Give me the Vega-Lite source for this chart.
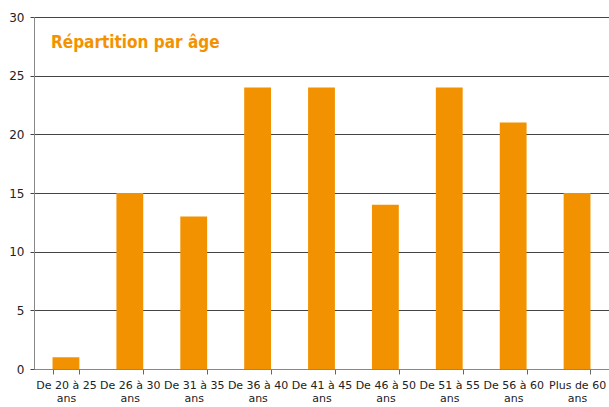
{
  "$schema": "https://vega.github.io/schema/vega-lite/v6.json",
  "width": 575,
  "height": 352,
  "padding": {"left": 8, "top": 11, "right": 0, "bottom": 0},
  "background": "white",
  "title": {
    "text": "Répartition par âge",
    "anchor": "start",
    "frame": "group",
    "orient": "top",
    "offset": -41,
    "dx": 17,
    "font": "DejaVu Sans Condensed",
    "fontWeight": "bold",
    "fontSize": 17,
    "color": "#F39200"
  },
  "data": {
    "values": [
      {"tranche": "De 20 à 25|ans", "n": 1},
      {"tranche": "De 26 à 30|ans", "n": 15},
      {"tranche": "De 31 à 35|ans", "n": 13},
      {"tranche": "De 36 à 40|ans", "n": 24},
      {"tranche": "De 41 à 45|ans", "n": 24},
      {"tranche": "De 46 à 50|ans", "n": 14},
      {"tranche": "De 51 à 55|ans", "n": 24},
      {"tranche": "De 56 à 60|ans", "n": 21},
      {"tranche": "Plus de 60|ans", "n": 15}
    ]
  },
  "mark": {"type": "bar", "color": "#F39200"},
  "encoding": {
    "x": {
      "field": "tranche",
      "type": "nominal",
      "sort": null,
      "scale": {"paddingInner": 0.58, "paddingOuter": 0.29},
      "axis": {
        "title": null,
        "labelAngle": 0,
        "labelExpr": "split(datum.label, '|')",
        "tickBand": "extent",
        "tickSize": 5,
        "tickColor": "#666",
        "domainColor": "#888",
        "labelFont": "DejaVu Sans",
        "labelFontSize": 11,
        "labelColor": "#222",
        "labelPadding": 5,
        "labelLineHeight": 13
      }
    },
    "y": {
      "field": "n",
      "type": "quantitative",
      "scale": {"domain": [0, 30], "nice": false},
      "axis": {
        "title": null,
        "values": [0, 5, 10, 15, 20, 25, 30],
        "grid": true,
        "gridColor": "#444",
        "gridOpacity": 1,
        "tickSize": 4,
        "tickColor": "#444",
        "domainColor": "#888",
        "labelFont": "DejaVu Sans",
        "labelFontSize": 12,
        "labelColor": "#222",
        "labelPadding": 6
      }
    }
  },
  "config": {"view": {"stroke": null}}
}
